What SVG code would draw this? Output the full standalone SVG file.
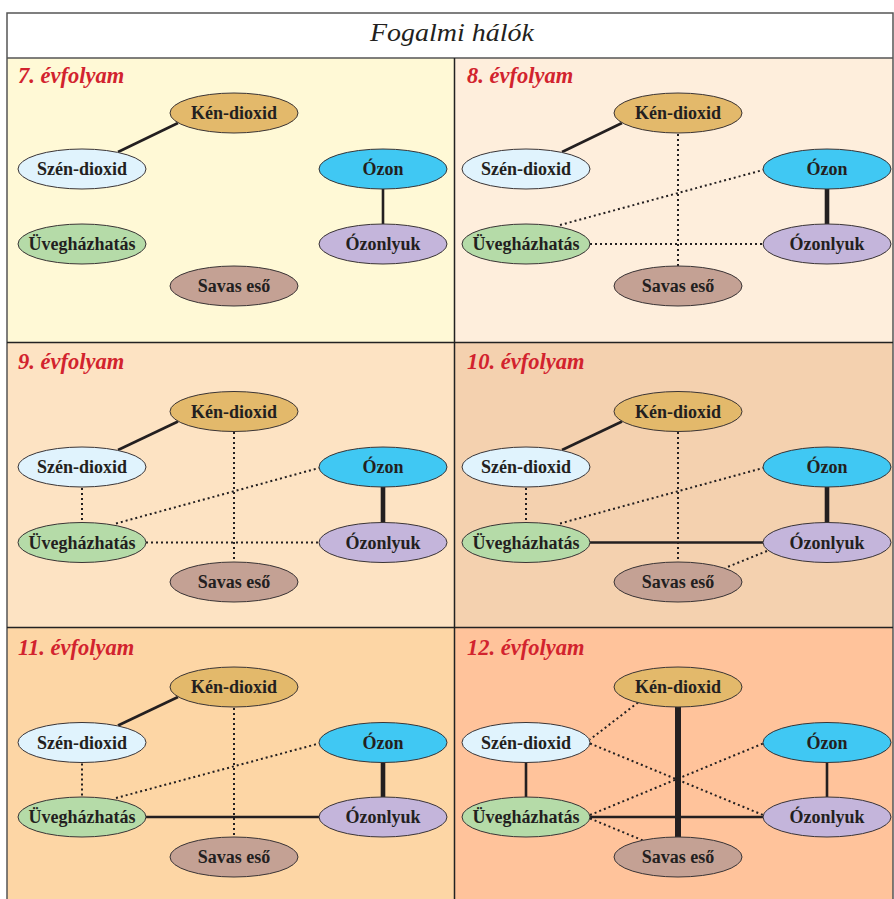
<svg xmlns="http://www.w3.org/2000/svg" width="894" height="899" viewBox="0 0 894 899">
<style>
.t{font-family:"Liberation Serif","Times New Roman",serif;font-weight:bold;font-size:18px;fill:#231f20;text-anchor:middle}
.lab{font-family:"Liberation Serif","Times New Roman",serif;font-weight:bold;font-style:italic;font-size:22.5px;fill:#d2232e}
.n{stroke:#3a3435;stroke-width:1}
.ken{fill:#e3b96b}.szen{fill:#e0f3fd}.ozon{fill:#40c8f3}.uveg{fill:#b5dba8}.lyuk{fill:#c4b5db}.savas{fill:#c4a194}
.s{stroke:#231f20;stroke-width:2.6;fill:none}
.th{stroke:#231f20;stroke-width:4.6;fill:none}
.xt{stroke:#231f20;stroke-width:6;fill:none}
.d{stroke:#231f20;stroke-width:2;stroke-dasharray:2 3;fill:none}
</style>
<rect x="0" y="0" width="894" height="899" fill="#ffffff"/>
<g id="backgrounds">
<rect x="7" y="58" width="447.5" height="284.5" fill="#fff9d6"/>
<rect x="454.5" y="58" width="438.5" height="284.5" fill="#feeedc"/>
<rect x="7" y="342.5" width="447.5" height="285" fill="#fde3c3"/>
<rect x="454.5" y="342.5" width="438.5" height="285" fill="#f4d1af"/>
<rect x="7" y="627.5" width="447.5" height="272" fill="#fdd6a5"/>
<rect x="454.5" y="627.5" width="438.5" height="272" fill="#ffc39b"/>
</g>
<g id="frame" fill="none">
<rect x="7" y="13" width="886" height="890" stroke="#555" stroke-width="1.5"/>
<line x1="7" y1="58" x2="893" y2="58" stroke="#555" stroke-width="1.5"/>
<line x1="7" y1="342.5" x2="893" y2="342.5" stroke="#222" stroke-width="1.5"/>
<line x1="7" y1="627.5" x2="893" y2="627.5" stroke="#222" stroke-width="1.5"/>
<line x1="454.5" y1="58" x2="454.5" y2="899" stroke="#222" stroke-width="1.5"/>
</g>
<text x="452" y="41" font-family="'Liberation Serif','Times New Roman',serif" font-style="italic" font-size="26" fill="#231f20" text-anchor="middle" textLength="164" lengthAdjust="spacingAndGlyphs">Fogalmi hálók</text>
<g id="labels">
<text class="lab" x="18" y="83">7. évfolyam</text>
<text class="lab" x="467" y="83">8. évfolyam</text>
<text class="lab" x="18" y="369">9. évfolyam</text>
<text class="lab" x="467" y="369">10. évfolyam</text>
<text class="lab" x="18" y="655">11. évfolyam</text>
<text class="lab" x="467" y="655">12. évfolyam</text>
</g>
<g id="connectors">
<!-- panel 7 -->
<line class="s" x1="178" y1="123" x2="118" y2="152"/>
<line class="s" x1="383" y1="189" x2="383" y2="224"/>
<!-- panel 8 -->
<line class="s" x1="622" y1="123" x2="562" y2="152"/>
<line class="th" x1="827" y1="189" x2="827" y2="224"/>
<line class="d" x1="678" y1="134" x2="678" y2="266"/>
<line class="d" x1="560" y1="225" x2="763" y2="170"/>
<line class="d" x1="590" y1="244" x2="763" y2="244"/>
<!-- panel 9 -->
<line class="s" x1="178" y1="421.5" x2="118" y2="450"/>
<line class="th" x1="383" y1="487" x2="383" y2="522.5"/>
<line class="d" x1="234" y1="432" x2="234" y2="562"/>
<line class="d" x1="116" y1="523.5" x2="319" y2="468"/>
<line class="d" x1="146" y1="542.5" x2="319" y2="542.5"/>
<line class="d" x1="82" y1="488" x2="82" y2="522.5"/>
<!-- panel 10 -->
<line class="s" x1="622" y1="421.5" x2="562" y2="450"/>
<line class="th" x1="827" y1="487" x2="827" y2="522.5"/>
<line class="d" x1="678" y1="432" x2="678" y2="562"/>
<line class="d" x1="560" y1="523.5" x2="763" y2="468"/>
<line class="s" x1="590" y1="542.5" x2="763" y2="542.5"/>
<line class="d" x1="526" y1="488" x2="526" y2="522.5"/>
<line class="d" x1="767" y1="551" x2="725" y2="568"/>
<!-- panel 11 -->
<line class="s" x1="178" y1="697" x2="118" y2="725.5"/>
<line class="th" x1="383" y1="762.5" x2="383" y2="797"/>
<line class="d" x1="234" y1="708" x2="234" y2="837"/>
<line class="d" x1="116" y1="798" x2="319" y2="743.5"/>
<line class="d" x1="82" y1="763.5" x2="82" y2="797"/>
<line class="s" x1="146" y1="817" x2="319" y2="817"/>
<!-- panel 12 -->
<line class="d" x1="638" y1="702.5" x2="590" y2="739.5"/>
<line class="d" x1="590" y1="743.5" x2="763" y2="815"/>
<line class="d" x1="590" y1="815" x2="763" y2="743.5"/>
<line class="d" x1="590" y1="818.5" x2="643" y2="840.5"/>
<line class="s" x1="590" y1="817" x2="763" y2="817"/>
<line class="s" x1="526" y1="762.5" x2="526" y2="797"/>
<line class="s" x1="827" y1="762.5" x2="827" y2="797"/>
<line class="xt" x1="678" y1="707" x2="678" y2="837"/>
</g>
<!-- panel 7 nodes -->
<g id="p7-ken"><ellipse class="n ken" cx="234" cy="113" rx="64" ry="20"/><text class="t" x="234" y="119">Kén-dioxid</text></g>
<g id="p7-szen"><ellipse class="n szen" cx="82" cy="169" rx="64" ry="20"/><text class="t" x="82" y="175">Szén-dioxid</text></g>
<g id="p7-ozon"><ellipse class="n ozon" cx="383" cy="169" rx="64" ry="20"/><text class="t" x="383" y="175">Ózon</text></g>
<g id="p7-uveg"><ellipse class="n uveg" cx="82" cy="244" rx="64" ry="20"/><text class="t" x="82" y="250">Üvegházhatás</text></g>
<g id="p7-lyuk"><ellipse class="n lyuk" cx="383" cy="244" rx="64" ry="20"/><text class="t" x="383" y="250">Ózonlyuk</text></g>
<g id="p7-savas"><ellipse class="n savas" cx="234" cy="286" rx="64" ry="20"/><text class="t" x="234" y="292">Savas eső</text></g>
<!-- panel 8 nodes -->
<g id="p8-ken"><ellipse class="n ken" cx="678" cy="113" rx="64" ry="20"/><text class="t" x="678" y="119">Kén-dioxid</text></g>
<g id="p8-szen"><ellipse class="n szen" cx="526" cy="169" rx="64" ry="20"/><text class="t" x="526" y="175">Szén-dioxid</text></g>
<g id="p8-ozon"><ellipse class="n ozon" cx="827" cy="169" rx="64" ry="20"/><text class="t" x="827" y="175">Ózon</text></g>
<g id="p8-uveg"><ellipse class="n uveg" cx="526" cy="244" rx="64" ry="20"/><text class="t" x="526" y="250">Üvegházhatás</text></g>
<g id="p8-lyuk"><ellipse class="n lyuk" cx="827" cy="244" rx="64" ry="20"/><text class="t" x="827" y="250">Ózonlyuk</text></g>
<g id="p8-savas"><ellipse class="n savas" cx="678" cy="286" rx="64" ry="20"/><text class="t" x="678" y="292">Savas eső</text></g>
<!-- panel 9 nodes -->
<g id="p9-ken"><ellipse class="n ken" cx="234" cy="411.5" rx="64" ry="20"/><text class="t" x="234" y="417.5">Kén-dioxid</text></g>
<g id="p9-szen"><ellipse class="n szen" cx="82" cy="467" rx="64" ry="20"/><text class="t" x="82" y="473">Szén-dioxid</text></g>
<g id="p9-ozon"><ellipse class="n ozon" cx="383" cy="467" rx="64" ry="20"/><text class="t" x="383" y="473">Ózon</text></g>
<g id="p9-uveg"><ellipse class="n uveg" cx="82" cy="542.5" rx="64" ry="20"/><text class="t" x="82" y="548.5">Üvegházhatás</text></g>
<g id="p9-lyuk"><ellipse class="n lyuk" cx="383" cy="542.5" rx="64" ry="20"/><text class="t" x="383" y="548.5">Ózonlyuk</text></g>
<g id="p9-savas"><ellipse class="n savas" cx="234" cy="582" rx="64" ry="20"/><text class="t" x="234" y="588">Savas eső</text></g>
<!-- panel 10 nodes -->
<g id="p10-ken"><ellipse class="n ken" cx="678" cy="411.5" rx="64" ry="20"/><text class="t" x="678" y="417.5">Kén-dioxid</text></g>
<g id="p10-szen"><ellipse class="n szen" cx="526" cy="467" rx="64" ry="20"/><text class="t" x="526" y="473">Szén-dioxid</text></g>
<g id="p10-ozon"><ellipse class="n ozon" cx="827" cy="467" rx="64" ry="20"/><text class="t" x="827" y="473">Ózon</text></g>
<g id="p10-uveg"><ellipse class="n uveg" cx="526" cy="542.5" rx="64" ry="20"/><text class="t" x="526" y="548.5">Üvegházhatás</text></g>
<g id="p10-lyuk"><ellipse class="n lyuk" cx="827" cy="542.5" rx="64" ry="20"/><text class="t" x="827" y="548.5">Ózonlyuk</text></g>
<g id="p10-savas"><ellipse class="n savas" cx="678" cy="582" rx="64" ry="20"/><text class="t" x="678" y="588">Savas eső</text></g>
<!-- panel 11 nodes -->
<g id="p11-ken"><ellipse class="n ken" cx="234" cy="687" rx="64" ry="20"/><text class="t" x="234" y="693">Kén-dioxid</text></g>
<g id="p11-szen"><ellipse class="n szen" cx="82" cy="742.5" rx="64" ry="20"/><text class="t" x="82" y="748.5">Szén-dioxid</text></g>
<g id="p11-ozon"><ellipse class="n ozon" cx="383" cy="742.5" rx="64" ry="20"/><text class="t" x="383" y="748.5">Ózon</text></g>
<g id="p11-uveg"><ellipse class="n uveg" cx="82" cy="817" rx="64" ry="20"/><text class="t" x="82" y="823">Üvegházhatás</text></g>
<g id="p11-lyuk"><ellipse class="n lyuk" cx="383" cy="817" rx="64" ry="20"/><text class="t" x="383" y="823">Ózonlyuk</text></g>
<g id="p11-savas"><ellipse class="n savas" cx="234" cy="857" rx="64" ry="20"/><text class="t" x="234" y="863">Savas eső</text></g>
<!-- panel 12 nodes -->
<g id="p12-ken"><ellipse class="n ken" cx="678" cy="687" rx="64" ry="20"/><text class="t" x="678" y="693">Kén-dioxid</text></g>
<g id="p12-szen"><ellipse class="n szen" cx="526" cy="742.5" rx="64" ry="20"/><text class="t" x="526" y="748.5">Szén-dioxid</text></g>
<g id="p12-ozon"><ellipse class="n ozon" cx="827" cy="742.5" rx="64" ry="20"/><text class="t" x="827" y="748.5">Ózon</text></g>
<g id="p12-uveg"><ellipse class="n uveg" cx="526" cy="817" rx="64" ry="20"/><text class="t" x="526" y="823">Üvegházhatás</text></g>
<g id="p12-lyuk"><ellipse class="n lyuk" cx="827" cy="817" rx="64" ry="20"/><text class="t" x="827" y="823">Ózonlyuk</text></g>
<g id="p12-savas"><ellipse class="n savas" cx="678" cy="857" rx="64" ry="20"/><text class="t" x="678" y="863">Savas eső</text></g>
</svg>
